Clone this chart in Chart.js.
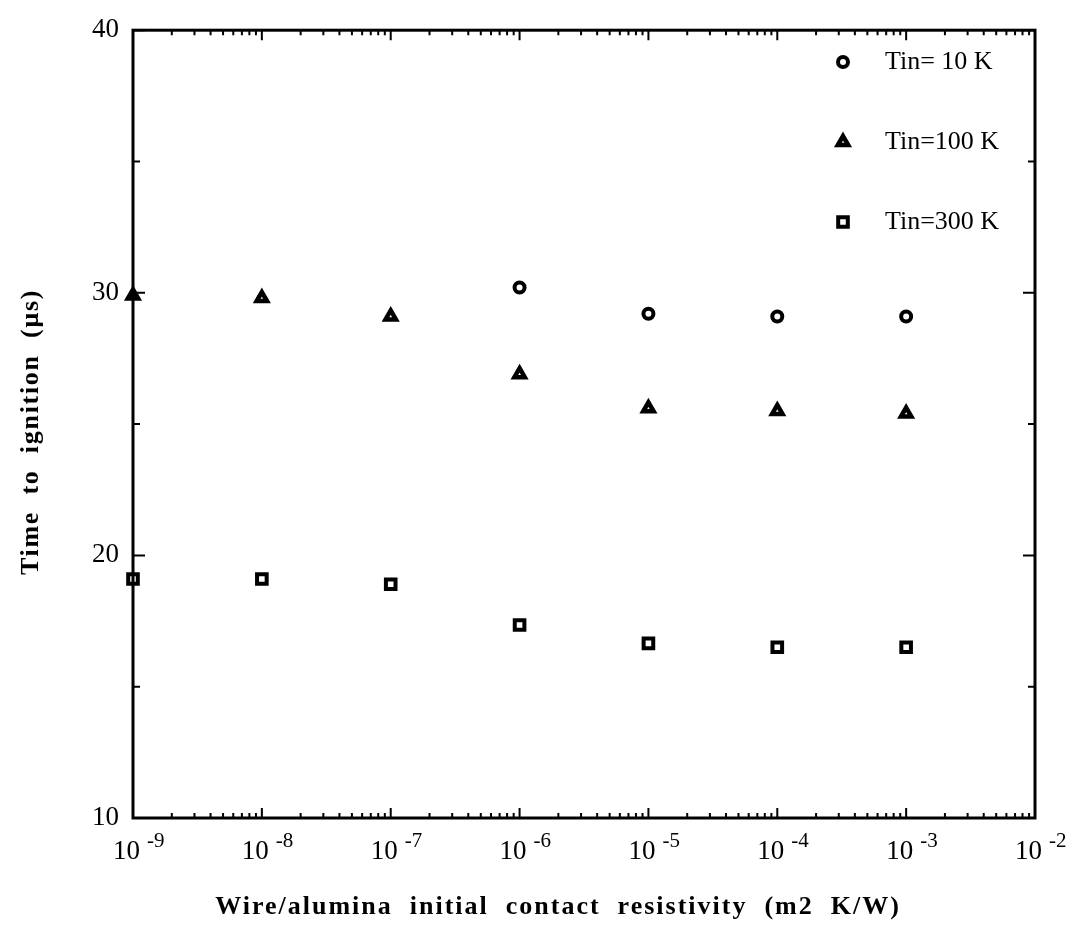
<!DOCTYPE html>
<html>
<head>
<meta charset="utf-8">
<script src="https://cdn.jsdelivr.net/npm/chart.js@4"></script>
<style>
  html, body { margin: 0; padding: 0; background: #fff; }
  #contenedor { width: 1074px; height: 928px; }
</style>
</head>
<body>
<div id="contenedor"><canvas id="graficaIgnicion"></canvas></div>
<script>
// Datos
const resistividad = [1e-9, 1e-8, 1e-7, 1e-6, 1e-5, 1e-4, 1e-3];
const tin10 = [null, null, null, 30.2, 29.2, 29.1, 29.1];
const tin100 = [29.9, 29.8, 29.1, 26.9, 25.6, 25.5, 25.4];
const tin300 = [19.1, 19.1, 18.9, 17.35, 16.65, 16.5, 16.5];
const etiquetasSerie = ['Tin= 10 K', 'Tin=100 K', 'Tin=300 K'];
const decadas = [-9, -8, -7, -6, -5, -4, -3, -2];
const ticksY = [10, 20, 30, 40];
const tituloX = 'Wire/alumina  initial  contact  resistivity  (m2  K/W)';
const tituloY = 'Time  to  ignition  (\u03bcs)';

const fuenteSerif = '"Liberation Serif", "Times New Roman", serif';

function puntos(valores) {
    return resistividad
        .map((x, i) => ({ x: x, y: valores[i] }))
        .filter(p => p.y !== null);
}

const estilos = [
    { pointStyle: 'circle', radius: 5, borderWidth: 4 },
    { pointStyle: 'triangle', radius: 6, borderWidth: 4.5 },
    { pointStyle: 'rect', radius: 6.8, borderWidth: 4 }
];
const series = [tin10, tin100, tin300];

// Marco, ticks interiores, etiquetas 10^n, titulos y leyenda
const marcoPlugin = {
    id: 'marco',
    afterDraw(chart) {
        const { ctx, chartArea: a, scales: { x, y } } = chart;
        ctx.save();
        ctx.strokeStyle = '#000';
        ctx.fillStyle = '#000';

        ctx.lineWidth = 3;
        ctx.strokeRect(a.left, a.top, a.right - a.left, a.bottom - a.top);

        ctx.lineWidth = 2;
        ctx.beginPath();
        decadas.forEach((d, i) => {
            const base = Math.pow(10, d);
            const px = x.getPixelForValue(base);
            ctx.moveTo(px, a.bottom); ctx.lineTo(px, a.bottom - 10);
            ctx.moveTo(px, a.top); ctx.lineTo(px, a.top + 10);
            if (i < decadas.length - 1) {
                for (let m = 2; m <= 9; m++) {
                    const pm = x.getPixelForValue(m * base);
                    ctx.moveTo(pm, a.bottom); ctx.lineTo(pm, a.bottom - 5);
                    ctx.moveTo(pm, a.top); ctx.lineTo(pm, a.top + 5);
                }
            }
        });
        ticksY.forEach((v, i) => {
            const py = y.getPixelForValue(v);
            ctx.moveTo(a.left, py); ctx.lineTo(a.left + 12, py);
            ctx.moveTo(a.right, py); ctx.lineTo(a.right - 12, py);
            if (i < ticksY.length - 1) {
                const pm = y.getPixelForValue((v + ticksY[i + 1]) / 2);
                ctx.moveTo(a.left, pm); ctx.lineTo(a.left + 7, pm);
                ctx.moveTo(a.right, pm); ctx.lineTo(a.right - 7, pm);
            }
        });
        ctx.stroke();

        // etiquetas del eje x: 10 con exponente
        ctx.textBaseline = 'middle';
        decadas.forEach(d => {
            const px = x.getPixelForValue(Math.pow(10, d));
            ctx.font = '27px ' + fuenteSerif;
            ctx.textAlign = 'right';
            ctx.fillText('10', px + 7, a.bottom + 34);
            ctx.font = '21px ' + fuenteSerif;
            ctx.textAlign = 'left';
            ctx.fillText('-' + Math.abs(d), px + 14, a.bottom + 23);
        });

        // titulos de ejes (espaciado entre letras como en el original)
        ctx.font = 'bold 26px ' + fuenteSerif;
        ctx.letterSpacing = '2px';
        ctx.textAlign = 'center';
        ctx.fillText(tituloX, 558, 907);
        ctx.save();
        ctx.translate(31, 432);
        ctx.rotate(-Math.PI / 2);
        ctx.letterSpacing = '1.7px';
        ctx.fillText(tituloY, 0, 0);
        ctx.restore();
        ctx.letterSpacing = '0px';

        // leyenda
        const filas = [62, 142, 222];
        etiquetasSerie.forEach((txt, i) => {
            const e = estilos[i];
            ctx.fillStyle = '#fff';
            ctx.strokeStyle = '#000';
            ctx.lineWidth = e.borderWidth;
            Chart.helpers.drawPoint(ctx, { pointStyle: e.pointStyle, radius: e.radius, rotation: 0, borderWidth: e.borderWidth }, 843, filas[i]);
            ctx.fillStyle = '#000';
            ctx.font = '26px ' + fuenteSerif;
            ctx.textAlign = 'left';
            ctx.fillText(txt, 885, filas[i]);
        });
        ctx.restore();
    }
};

new Chart(document.getElementById('graficaIgnicion').getContext('2d'), {
    type: 'scatter',
    data: {
        datasets: series.map((s, i) => ({
            label: etiquetasSerie[i],
            data: puntos(s),
            pointStyle: estilos[i].pointStyle,
            pointRadius: estilos[i].radius,
            pointHoverRadius: estilos[i].radius,
            pointBorderWidth: estilos[i].borderWidth,
            pointBackgroundColor: '#fff',
            pointBorderColor: '#000',
            showLine: false,
            clip: false
        }))
    },
    options: {
        responsive: true,
        maintainAspectRatio: false,
        animation: false,
        events: [],
        layout: { padding: { top: 21, right: 39, bottom: 0, left: 0 } },
        plugins: { legend: { display: false }, tooltip: { enabled: false } },
        scales: {
            x: {
                type: 'logarithmic',
                min: 1e-9,
                max: 1e-2,
                grid: { display: false, drawTicks: false },
                border: { display: false },
                ticks: { display: false },
                title: { display: false, text: tituloX },
                afterFit(scale) { scale.height = 110; }
            },
            y: {
                min: 10,
                max: 40,
                grid: { display: false, drawTicks: false },
                border: { display: false },
                ticks: {
                    stepSize: 10,
                    color: '#000',
                    padding: 14,
                    font: { family: fuenteSerif, size: 27 }
                },
                title: { display: false, text: tituloY },
                afterFit(scale) { scale.width = 133; }
            }
        }
    },
    plugins: [marcoPlugin]
});
</script>
</body>
</html>
